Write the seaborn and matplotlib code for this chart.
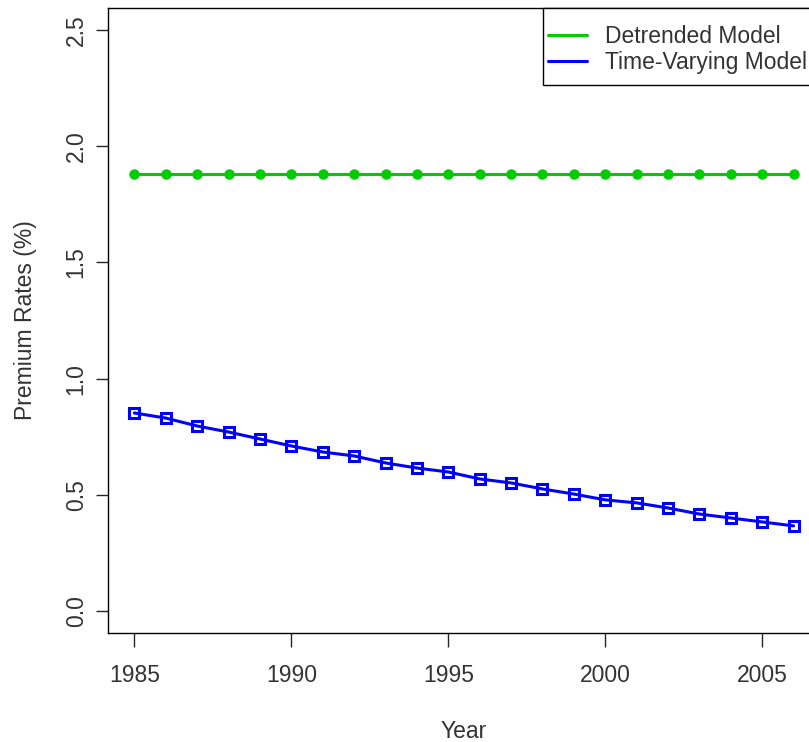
import numpy as np
import pandas as pd
import matplotlib
matplotlib.use('Agg')
import matplotlib.pyplot as plt
from matplotlib.patches import Rectangle
import seaborn as sns

# ── Data ──────────────────────────────────────────────────────────────────────
years = list(range(1985, 2007))
detrended = [1.88] * len(years)
time_varying = [0.852, 0.830, 0.796, 0.770, 0.740, 0.710, 0.684, 0.667,
                0.637, 0.615, 0.598, 0.568, 0.551, 0.525, 0.503, 0.478,
                0.465, 0.443, 0.417, 0.400, 0.383, 0.366]
series_names = ['Detrended Model', 'Time-Varying Model']
y_ticks = [0.0, 0.5, 1.0, 1.5, 2.0, 2.5]
x_ticks = [1985, 1990, 1995, 2000, 2005]

df = pd.DataFrame({
    'Year': years * 2,
    'Rate': detrended + time_varying,
    'Model': [series_names[0]] * len(years) + [series_names[1]] * len(years),
})

# ── Plot ──────────────────────────────────────────────────────────────────────
sns.set_style('ticks')
plt.rcParams['font.family'] = ['Liberation Sans', 'DejaVu Sans']
text_col = '#333333'
fs = 16.5

fig = plt.figure(figsize=(8.09, 7.42), dpi=100)
ax = fig.add_axes([108 / 809, 109 / 742, 712 / 809, 625 / 742])

palette = {series_names[0]: '#00cc00', series_names[1]: '#0000ff'}
sns.lineplot(data=df, x='Year', y='Rate', hue='Model', palette=palette,
             lw=2.2, ax=ax, legend=False)

g = df[df['Model'] == series_names[0]]
ax.plot(g['Year'], g['Rate'], ls='none', marker='o', ms=6.5,
        color='#00cc00')
b = df[df['Model'] == series_names[1]]
ax.plot(b['Year'], b['Rate'], ls='none', marker='s', ms=7.5, mfc='none',
        mew=2.2, color='#0000ff')

ax.set_xlim(1984.16, 2006.84)
ax.set_ylim(-0.095, 2.595)
ax.set_xticks(x_ticks)
ax.set_yticks(y_ticks)
ax.set_yticklabels([f'{v:.1f}' for v in y_ticks], rotation=90, va='center')
ax.tick_params(axis='x', length=10, width=1, labelsize=fs,
               labelcolor=text_col, pad=12)
ax.tick_params(axis='y', length=8.6, width=1, labelsize=fs,
               labelcolor=text_col, pad=6)
for s in ax.spines.values():
    s.set_visible(True)
    s.set_color('black')
    s.set_linewidth(1)

ax.set_xlabel('Year', fontsize=fs, color=text_col, labelpad=24)
ax.set_ylabel('Premium Rates (%)', fontsize=fs, color=text_col, labelpad=20)

# legend box drawn by hand so the padding matches the R-style legend
box_y0 = (633 - 85) / 625
box = Rectangle(((543 - 108) / 712, box_y0), 0.5, 1 - box_y0,
                transform=ax.transAxes, facecolor='white', edgecolor='black',
                lw=1, zorder=5, clip_on=False)
ax.add_patch(box)

handles = [plt.Line2D([], [], color=palette[n], lw=2.2) for n in series_names]
leg = ax.legend(handles, series_names, loc='upper left',
                bbox_to_anchor=((548 - 108) / 712, 1 - 17 / 625),
                fontsize=fs, frameon=False, borderaxespad=0, borderpad=0,
                handlelength=1.7, handletextpad=0.8, labelspacing=0.15)
leg.set_zorder(6)
for t in leg.get_texts():
    t.set_color(text_col)

fig.savefig('out.png', dpi=100)
